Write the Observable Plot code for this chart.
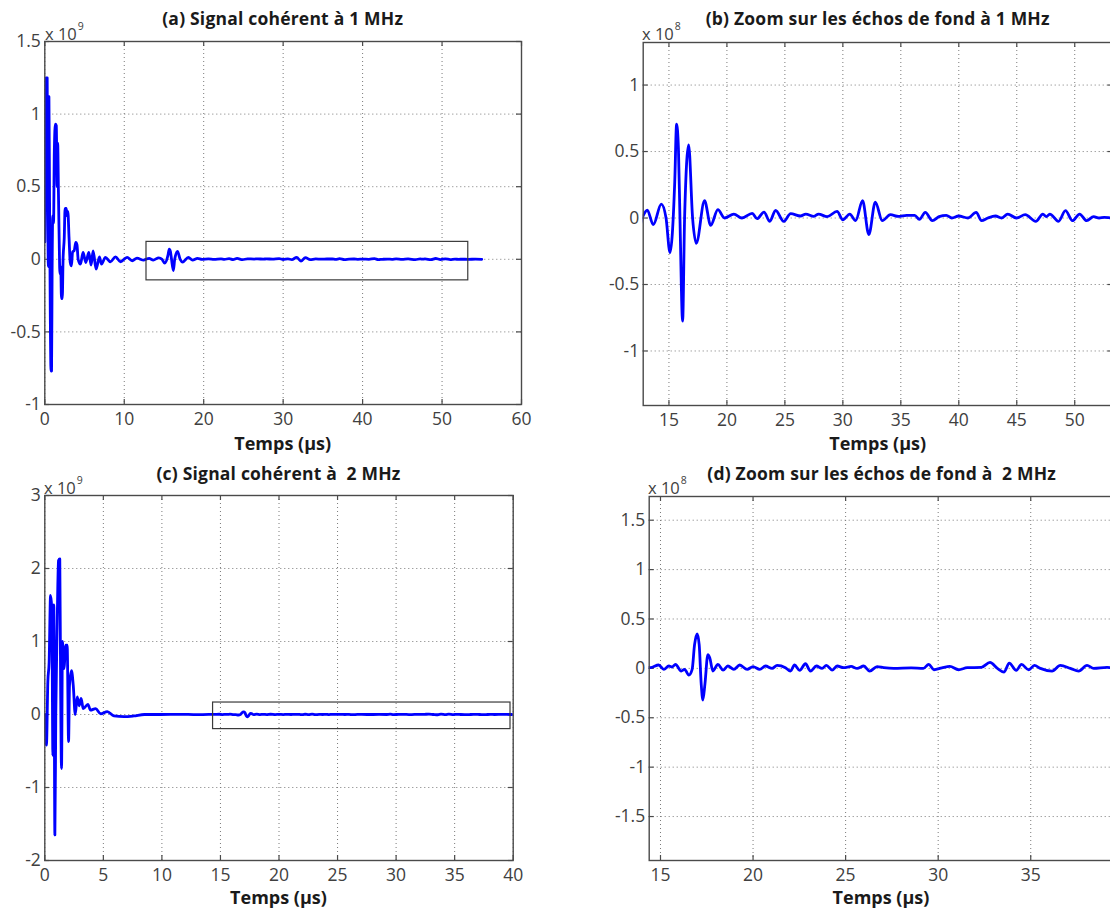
<!DOCTYPE html>
<html><head><meta charset="utf-8">
<script src="https://cdn.jsdelivr.net/npm/d3@7"></script>
<script src="https://cdn.jsdelivr.net/npm/@observablehq/plot@0.6"></script>
<style>
html,body{margin:0;padding:0;background:#fff;overflow:hidden;}
#fig{position:relative;width:1110px;height:908px;overflow:hidden;font-family:"Open Sans",Lato,sans-serif;background:#fff;}
.panel{position:absolute;}
.panel svg{max-width:none !important;}
.title,.xlabel{position:absolute;font-weight:bold;line-height:24px;color:#1a1a1a;white-space:pre;transform:translateX(-50%);}
.title{font-size:17.5px;letter-spacing:0.2px;}
.xlabel{font-size:18px;}
.expo{position:absolute;font-size:16.5px;line-height:20px;color:#404040;white-space:pre;}
.expo sup{font-size:10.5px;position:relative;top:-3px;margin-left:1px;}
</style></head>
<body><div id="fig"></div>
<script>
// ---- Signal at 1 MHz (time in µs, amplitude in units of 1e8) ----
const t1MHz = [0, 0.08, 0.15, 0.30, 0.38, 0.45, 0.52, 0.60, 0.68, 0.78, 0.85, 0.92, 1.0, 1.1, 1.2, 1.33, 1.45, 1.55, 1.62, 1.72, 1.82, 1.9, 2.0, 2.1, 2.2, 2.3, 2.45, 2.55, 2.7, 2.8, 2.9, 3.05, 3.2, 3.35, 3.5, 3.7, 3.9, 4.05, 4.2, 4.49, 4.82, 5.16, 5.54, 5.83, 6.08, 6.46, 6.88, 7.13, 7.63, 8.26, 8.9, 9.52, 10.36, 11.0, 11.6, 12.45,
  12.79, 13.13, 13.65, 14.34, 14.75, 15.09, 15.5, 15.66, 15.82, 15.95, 16.18, 16.35, 16.7, 17.04, 17.36, 18.07, 18.6, 19.22, 19.8, 20.6, 21.3, 22.18, 22.6, 23.2, 23.7, 24.2, 24.9, 25.5, 26.35, 26.8, 27.5, 27.9, 28.65, 29.5, 30.0, 30.6, 31.1, 31.7, 32.24, 32.8, 33.4, 34.1, 34.8, 35.5, 36.2, 36.6, 37.11, 37.72, 38.3, 38.93, 39.4, 39.99, 40.8, 41.5, 41.96, 42.5, 43.16, 43.7, 44.22, 44.97, 45.73, 46.64, 47.25, 47.55, 47.85, 48.6, 49.2, 49.8, 50.42, 51.03, 51.63, 52.1, 52.53, 53.3, 54.2, 55.0];
const v1MHz = [1.2, 8.5, 12.5, 12.5, 3, -0.5, 11.2, 4, -3, -7.7, -7.7, -1, 3, 2.5, 7.5, 9.3, 9.2, 5, 8, 4.5, 1, -1, -0.5, -2.7, -2.7, 0, 1.5, 3.5, 3.5, 3, 3.3, 1.5, -0.2, -0.45, 0.5, 0.6, 1.16, 1.0, 0.0, -0.33, 0.47, -0.22, 0.47, -0.4, 0.58, -0.68, 0.17, -0.33, 0.13, -0.17, 0.17, -0.17, 0.13, -0.1, 0.08, -0.06,
  0.02, 0.06, -0.05, 0.105, 0.0, -0.26, 0.27, 0.705, 0.52, 0.0, -0.775, 0.0, 0.55, 0.0, -0.19, 0.13, -0.055, 0.063, 0.0, 0.03, 0.0, 0.035, -0.005, 0.045, -0.025, 0.058, -0.025, 0.033, 0.015, 0.03, 0.012, 0.03, 0.01, 0.05, -0.013, 0.03, -0.02, 0.13, -0.125, 0.12, -0.02, 0.025, 0.012, 0.02, 0.02, -0.01, 0.043, -0.02, 0.01, 0.02, 0.0, 0.015, 0.0, 0.043, -0.02, 0.0, 0.015, 0.0, 0.03, 0.0, 0.025, -0.025, 0.03, 0.01, 0.03, -0.025, 0.055, -0.02, 0.03, -0.02, 0.01, 0.0, 0.005, 0.0, 0.01, 0.0];

// ---- Signal at 2 MHz (time in µs, amplitude in units of 1e8) ----
const t2MHz = [0.0, 0.09, 0.14, 0.26, 0.37, 0.49, 0.6, 0.69, 0.77, 0.86, 0.94, 1.06, 1.17, 1.28, 1.35, 1.43, 1.51, 1.63, 1.8, 1.91, 2.03, 2.11, 2.28, 2.43, 2.6, 2.77, 2.94, 3.1, 3.28, 3.68, 3.9, 4.34, 4.77, 5.34, 5.9, 6.76, 7.6, 8.5, 9.9, 11.5, 13.0, 14.0,
  14.39, 14.46, 14.9, 15.18, 15.45, 15.63, 15.81, 16.12, 16.3, 16.53, 16.71, 16.84, 16.98, 17.09, 17.2, 17.29, 17.4, 17.56, 17.66, 17.83, 18.1, 18.38, 18.64, 18.96, 19.28, 19.68, 20.0, 20.36, 20.67, 21.03, 21.3, 21.75, 22.02, 22.24, 22.52, 22.83, 23.1, 23.42, 23.73, 23.96, 24.27, 24.54, 24.9, 25.3, 25.62, 25.98, 26.3, 26.7, 27.06, 27.6, 28.54, 29.2, 29.49, 29.77, 30.2, 30.63, 31.1, 31.57, 32.33, 32.8, 33.2, 33.56, 33.84, 34.22, 34.5, 34.89, 35.2, 35.52, 36.15, 36.6, 37.14, 37.59, 38.04, 38.4, 39.12, 39.8, 40.0];
const v2MHz = [0.0, -3.7, -4.2, 4.5, 7.2, 16.3, 14.5, -5.6, 15, -16.5, 0, 12.7, 21.1, 21.3, 4, -7.4, 10, 6.3, 9.5, 9.5, -3.7, 4, 6.0, 4.0, 0.0, 2.4, 1.2, 2.2, 0.8, 1.4, 0.6, 0.8, 0.1, 0.4, -0.2, -0.3, -0.2, 0.0, 0.0, 0.03, -0.02, 0.01,
  0.01, 0.007, 0.034, -0.01, 0.024, 0.014, 0.04, -0.027, -0.01, -0.068, -0.01, 0.24, 0.35, 0.24, -0.16, -0.32, -0.16, 0.14, 0.108, -0.027, 0.04, -0.017, 0.024, -0.01, 0.034, -0.01, 0.017, -0.01, 0.024, 0.0, 0.03, 0.007, -0.027, 0.034, -0.02, 0.047, -0.027, 0.024, 0.0, 0.03, -0.017, 0.024, 0.007, 0.02, 0.0, 0.024, -0.027, 0.017, 0.007, 0.0, 0.005, 0.0, 0.04, -0.014, 0.005, 0.02, -0.014, 0.007, 0.01, 0.06, 0.0, -0.037, 0.054, -0.02, 0.04, -0.014, 0.03, 0.0, -0.027, 0.03, 0.0, -0.027, 0.03, 0.0, 0.01, 0.0, 0.0];

// ---- Tick values ----
const xTicksA = [0, 10, 20, 30, 40, 50, 60];
const yTicksA = [-1, -0.5, 0, 0.5, 1, 1.5];
const xTicksB = [15, 20, 25, 30, 35, 40, 45, 50, 55];
const yTicksB = [-1, -0.5, 0, 0.5, 1];
const xTicksC = [0, 5, 10, 15, 20, 25, 30, 35, 40];
const yTicksC = [-2, -1, 0, 1, 2, 3];
const xTicksD = [15, 20, 25, 30, 35, 40];
const yTicksD = [-1.5, -1, -0.5, 0, 0.5, 1, 1.5];

// ---- Zoom windows (µs, amplitude in plot units) ----
const zoomBoxA = [{x1: 12.8, x2: 53.3, y1: -0.145, y2: 0.12}];
const zoomBoxC = [{x1: 14.37, x2: 39.77, y1: -0.2, y2: 0.164}];

const titles = ["(a) Signal cohérent à 1 MHz", "(b) Zoom sur les échos de fond à 1 MHz", "(c) Signal cohérent à  2 MHz", "(d) Zoom sur les échos de fond à  2 MHz"];
const xLabel = "Temps (µs)";

const AX = "#4a4a4a";
function makePanel(o) {
  const data = o.t.map((d, i) => ({t: d, v: o.v[i] / o.div}));
  const innerW = o.width - o.ml - o.mr;
  const innerH = o.height - o.mt - o.mb;
  const tl = 5;
  const fmt = d => String(d);
  const xt = o.xt.filter(d => d >= o.xd[0] && d <= o.xd[1]);
  const marks = [
    Plot.gridX(xt, {stroke: "#7a7a7a", strokeOpacity: 1, strokeWidth: 1, strokeDasharray: "1,3"}),
    Plot.gridY(o.yt, {stroke: "#7a7a7a", strokeOpacity: 1, strokeWidth: 1, strokeDasharray: "1,3"}),
    Plot.tickX(xt, {x: d => d, insetTop: innerH - tl, stroke: AX, strokeWidth: 1.2}),
    Plot.tickX(xt, {x: d => d, insetBottom: innerH - tl, stroke: AX, strokeWidth: 1.2}),
    Plot.tickY(o.yt, {y: d => d, insetRight: innerW - tl, stroke: AX, strokeWidth: 1.2}),
    Plot.tickY(o.yt, {y: d => d, insetLeft: innerW - tl, stroke: AX, strokeWidth: 1.2}),
    Plot.line(data, {x: "t", y: "v", stroke: "#0000ff", strokeWidth: 2.8, curve: "monotone-x", clip: true}),
  ];
  if (o.box) marks.push(Plot.rect(o.box, {x1: "x1", x2: "x2", y1: "y1", y2: "y2", fill: "none", stroke: "#3a3a3a", strokeWidth: 1.2}));
  marks.push(
    Plot.axisX(xt, {tickSize: 0, tickPadding: 8, tickFormat: fmt, label: null, color: "#404040"}),
    Plot.axisY(o.yt, {tickSize: 0, tickPadding: 4, tickFormat: fmt, label: null, color: "#404040"}),
    Plot.frame({stroke: AX, strokeWidth: 1.4})
  );
  return Plot.plot({
    width: o.width, height: o.height,
    marginLeft: o.ml, marginRight: o.mr, marginTop: o.mt, marginBottom: o.mb,
    x: {domain: o.xd}, y: {domain: o.yd},
    style: {fontFamily: "'Open Sans', Lato, sans-serif", fontSize: "17.5px", background: "transparent", overflow: "visible"},
    marks
  });
}

const fig = document.getElementById("fig");
function place(el, left, top, w) {
  const d = document.createElement("div");
  d.className = "panel"; d.style.left = left + "px"; d.style.top = top + "px"; d.style.width = w + "px";
  d.appendChild(el); fig.appendChild(d);
}
function addText(cls, html, left, top) {
  const d = document.createElement("div");
  d.className = cls; d.style.left = left + "px"; d.style.top = top + "px";
  d.innerHTML = html; fig.appendChild(d);
}

place(makePanel({t: t1MHz, v: v1MHz, div: 10, xd: [0, 60], yd: [-1, 1.5], xt: xTicksA, yt: yTicksA, box: zoomBoxA,
  width: 540, height: 460, ml: 44.3, mr: 19, mt: 41, mb: 56}), 0, 0, 540);
place(makePanel({t: t1MHz, v: v1MHz, div: 1, xd: [12.78, 53.3], yd: [-1.41, 1.32], xt: xTicksB, yt: yTicksB,
  width: 560, height: 460, ml: 82.7, mr: 7.5, mt: 42, mb: 55}), 560, 0, 560);
place(makePanel({t: t2MHz, v: v2MHz, div: 10, xd: [0, 40], yd: [-2, 3], xt: xTicksC, yt: yTicksC, box: zoomBoxC,
  width: 540, height: 448, ml: 44.3, mr: 27.3, mt: 35, mb: 48}), 0, 460, 540);
place(makePanel({t: t2MHz, v: v2MHz, div: 1, xd: [14.39, 39.6], yd: [-1.945, 1.74], xt: xTicksD, yt: yTicksD,
  width: 570, height: 448, ml: 88.7, mr: 14.6, mt: 36, mb: 48}), 560, 460, 570);

addText("title", titles[0], 282.7, 6);
addText("title", titles[1], 877.7, 6);
addText("title", titles[2], 278.5, 461);
addText("title", titles[3], 881.7, 461);
addText("xlabel", xLabel, 282.7, 431);
addText("xlabel", xLabel, 877.7, 431);
addText("xlabel", xLabel, 278.5, 885);
addText("xlabel", xLabel, 881, 885);
addText("expo", "x 10<sup>9</sup>", 45, 19);
addText("expo", "x 10<sup>8</sup>", 642, 19);
addText("expo", "x 10<sup>9</sup>", 44, 473);
addText("expo", "x 10<sup>8</sup>", 648, 473);
</script></body></html>
